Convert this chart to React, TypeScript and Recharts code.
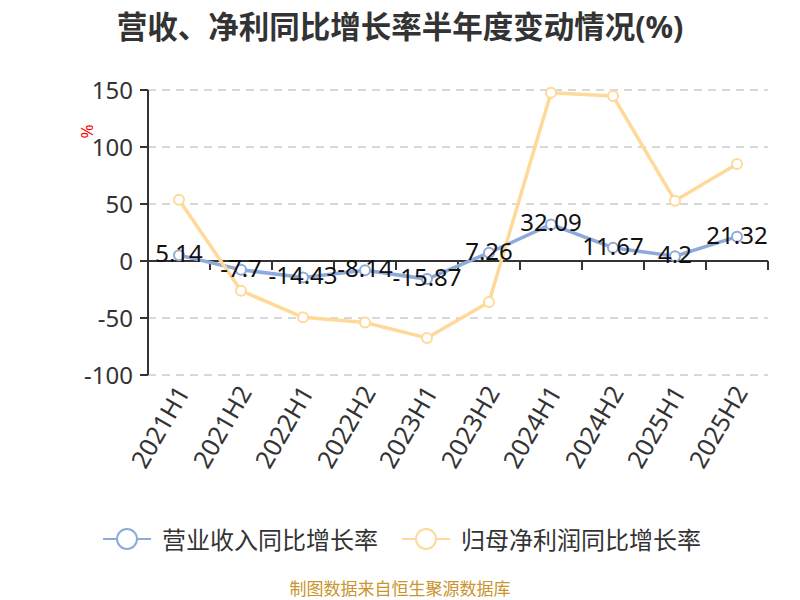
import React from "react";
import { LineChart, Line, XAxis, YAxis, CartesianGrid, LabelList, ReferenceLine } from "recharts";

const periods = ["2021H1", "2021H2", "2022H1", "2022H2", "2023H1", "2023H2", "2024H1", "2024H2", "2025H1", "2025H2"];
const revenueGrowth = [5.14, -7.7, -14.43, -8.14, -15.87, 7.26, 32.09, 11.67, 4.2, 21.32];
const profitGrowth = [53.8, -26, -49.4, -54, -67.5, -36, 147.6, 144.7, 52.9, 85];
const yTicks = [-100, -50, 0, 50, 100, 150];

const seriesNames = ["营业收入同比增长率", "归母净利润同比增长率"];
const BLUE = "#8eaadb";
const ORANGE = "#ffd999";
const FONT = "'Noto Sans', 'Noto Sans CJK SC', sans-serif";

const data = periods.map((p, i) => ({
  period: p,
  revenue: revenueGrowth[i],
  profit: profitGrowth[i],
}));

// x axis line drawn on zero, with ticks between categories
function ZeroAxis(props: any) {
  const { x1, x2, y1 } = props;
  const step = (x2 - x1) / periods.length;
  return (
    <g>
      <line x1={x1} y1={y1} x2={x2} y2={y1} stroke="#333" strokeWidth={2} />
      {periods.map((_, i) => (
        <line key={i} x1={x1 + step * (i + 1)} y1={y1} x2={x1 + step * (i + 1)} y2={y1 + 9} stroke="#333" strokeWidth={2} />
      ))}
    </g>
  );
}

function PeriodTick({ x, y, payload }: any) {
  return (
    <text
      x={x + 4}
      y={y + 5}
      transform={`rotate(-60, ${x + 4}, ${y + 5})`}
      textAnchor="end"
      dy="0.35em"
      fontSize={25}
      fill="#333"
      fontFamily={FONT}
    >
      {payload.value}
    </text>
  );
}

function ValueLabel({ x, y, value }: any) {
  return (
    <text x={x} y={y + 7} textAnchor="middle" fontSize={24} fill="#111" fontFamily={FONT}>
      {value}
    </text>
  );
}

function LegendItem({ color, label }: { color: string; label: string }) {
  return (
    <div style={{ display: "flex", alignItems: "center", marginRight: 24 }}>
      <svg width={48} height={24}>
        <line x1={0} y1={12} x2={48} y2={12} stroke={color} strokeWidth={2} />
        <circle cx={24} cy={12} r={10} fill="#fff" stroke={color} strokeWidth={2} />
      </svg>
      <span style={{ marginLeft: 11, fontSize: 24, color: "#333" }}>{label}</span>
    </div>
  );
}

export default function App() {
  return (
    <div style={{ position: "absolute", left: 0, top: 0, width: 800, height: 600, background: "#fff", fontFamily: FONT, overflow: "hidden" }}>
      <div style={{ position: "absolute", top: 3, width: 800, textAlign: "center", fontSize: 30.5, fontWeight: 700, color: "#333" }}>
        营收、净利同比增长率半年度变动情况(%)
      </div>
      <div style={{ position: "absolute", left: 79, top: 120, fontSize: 17, color: "#f00", transform: "rotate(-90deg)" }}>%</div>
      <LineChart width={800} height={600} data={data} margin={{ top: 90, right: 32, bottom: 105, left: 0 }}>
        <CartesianGrid vertical={false} stroke="#ccc" strokeDasharray="8 6" strokeWidth={1.5} />
        <XAxis dataKey="period" scale="band" axisLine={false} tickLine={false} interval={0} height={120} tick={<PeriodTick />} />
        <YAxis
          width={148}
          domain={[-100, 150]}
          ticks={yTicks}
          axisLine={{ stroke: "#333", strokeWidth: 2 }}
          tickLine={{ stroke: "#333", strokeWidth: 2 }}
          tickSize={8}
          tickMargin={7}
          tick={{ fontSize: 24, fill: "#333", fontFamily: FONT }}
        />
        <ReferenceLine y={0} shape={(p: any) => <ZeroAxis {...p} />} />
        <Line
          type="linear"
          dataKey="revenue"
          name={seriesNames[0]}
          stroke={BLUE}
          strokeWidth={3.5}
          dot={{ r: 5, fill: "#fff", stroke: BLUE, strokeWidth: 2 }}
          isAnimationActive={false}
        >
          <LabelList dataKey="revenue" content={<ValueLabel />} />
        </Line>
        <Line
          type="linear"
          dataKey="profit"
          name={seriesNames[1]}
          stroke={ORANGE}
          strokeWidth={3.5}
          dot={{ r: 5, fill: "#fff", stroke: ORANGE, strokeWidth: 2 }}
          isAnimationActive={false}
        />
      </LineChart>
      <div style={{ position: "absolute", top: 521, left: 103, display: "flex" }}>
        <LegendItem color={BLUE} label={seriesNames[0]} />
        <LegendItem color={ORANGE} label={seriesNames[1]} />
      </div>
      <div style={{ position: "absolute", top: 579, width: 800, textAlign: "center", fontSize: 17, lineHeight: "20px", color: "#c9952c" }}>
        制图数据来自恒生聚源数据库
      </div>
    </div>
  );
}
